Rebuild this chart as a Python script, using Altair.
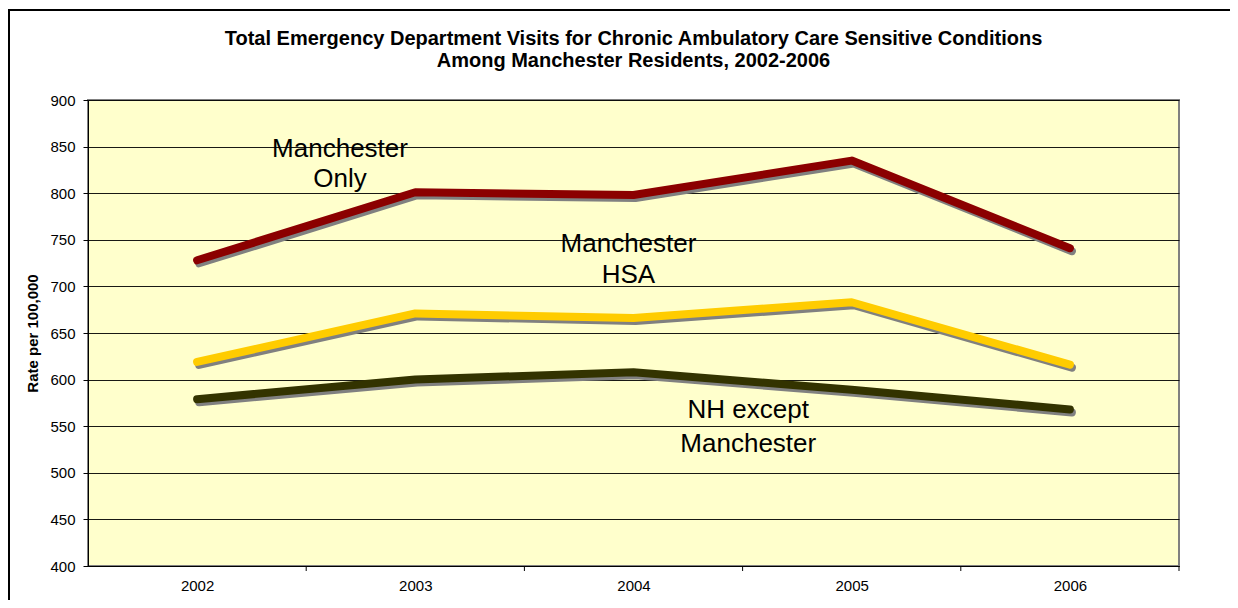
import altair as alt
import pandas as pd

years = [2002, 2003, 2004, 2005, 2006]
manchester_only = [728, 801, 798, 835, 741]
manchester_hsa = [619, 671, 666, 683, 616]
nh_except = [579, 600, 608, 589, 568]
series_names = ["Manchester Only", "Manchester HSA", "NH except Manchester"]
series_colors = ["#8B0000", "#FFCC00", "#333300"]
y_ticks = [400, 450, 500, 550, 600, 650, 700, 750, 800, 850, 900]
tick_bounds = [2002.5, 2003.5, 2004.5, 2005.5, 2006.5]

label_text = ["Manchester", "Only", "Manchester", "HSA", "NH except", "Manchester"]
label_x = [2002.655, 2002.655, 2003.977, 2003.977, 2004.526, 2004.526]
label_y = [838.8, 806.7, 736.9, 703.6, 558.8, 522.3]

FONT = "Liberation Sans"

rows = []
for name, vals in zip(series_names, [manchester_only, manchester_hsa, nh_except]):
    for yr, v in zip(years, vals):
        rows.append({"year": yr, "value": v, "series": name})
df = pd.DataFrame(rows)
labels_df = pd.DataFrame({"year": label_x, "value": label_y, "text": label_text})
ticks_df = pd.DataFrame({"year": tick_bounds})
frame_df = pd.DataFrame({"a": [0]})

x_enc = alt.X(
    "year:Q",
    scale=alt.Scale(domain=[2001.5, 2006.5], nice=False, zero=False),
    axis=alt.Axis(values=years, format="d", ticks=False, grid=False, domainColor="black",
                  domainWidth=1, labelFontSize=15, labelPadding=12, labelColor="black",
                  labelFont=FONT, title=None),
)
y_enc = alt.Y(
    "value:Q",
    scale=alt.Scale(domain=[400, 900], nice=False, zero=False),
    axis=alt.Axis(values=y_ticks, grid=True, gridColor="black", gridWidth=1, gridOpacity=0.9,
                  tickSize=5, tickColor="black", domainColor="black", domainWidth=1,
                  labelFontSize=15, labelPadding=8, labelColor="black", labelFont=FONT,
                  title="Rate per 100,000", titleFontSize=15, titleFontWeight="bold",
                  titleFont=FONT, titleColor="black", titlePadding=9),
)

frame_top = alt.Chart(frame_df).mark_rule(color="black", strokeWidth=2).encode(
    x=alt.value(-80), x2=alt.value(1142), y=alt.value(-90)
)
frame_left = alt.Chart(frame_df).mark_rule(color="black", strokeWidth=2).encode(
    x=alt.value(-79), y=alt.value(-91), y2=alt.value(500)
)

base = alt.Chart(df)
shadow = base.mark_line(color="#808080", strokeWidth=8, strokeCap="round", strokeJoin="round",
                        xOffset=2, yOffset=3).encode(x=x_enc, y=y_enc, detail="series:N")
lines = base.mark_line(strokeWidth=8, strokeCap="round", strokeJoin="round").encode(
    x=x_enc, y=y_enc,
    color=alt.Color("series:N", scale=alt.Scale(domain=series_names, range=series_colors), legend=None),
)
texts = alt.Chart(labels_df).mark_text(font=FONT, fontSize=26, align="center", baseline="alphabetic",
                                       color="black").encode(x="year:Q", y="value:Q", text="text:N")
ticks = alt.Chart(ticks_df).mark_rule(color="black", strokeWidth=1).encode(
    x="year:Q", y=alt.value(466), y2=alt.value(471)
)

chart = alt.layer(frame_top, frame_left, shadow, lines, texts, ticks).properties(
    width=1091,
    height=466,
    padding={"left": 80, "top": 92, "right": 51, "bottom": 34},
    autosize=alt.AutoSizeParams(type="none"),
    background="white",
    title=alt.Title(
        ["Total Emergency Department Visits for Chronic Ambulatory Care Sensitive Conditions",
         "Among Manchester Residents, 2002-2006"],
        font=FONT, fontSize=20, fontWeight="bold", color="black", anchor="middle",
        frame="group", lineHeight=22, offset=-63,
    ),
).configure_view(
    fill="#FFFFCC", stroke="#808080", strokeWidth=2
)

chart.save("out.html", embed_options={"renderer": "svg", "actions": False})
